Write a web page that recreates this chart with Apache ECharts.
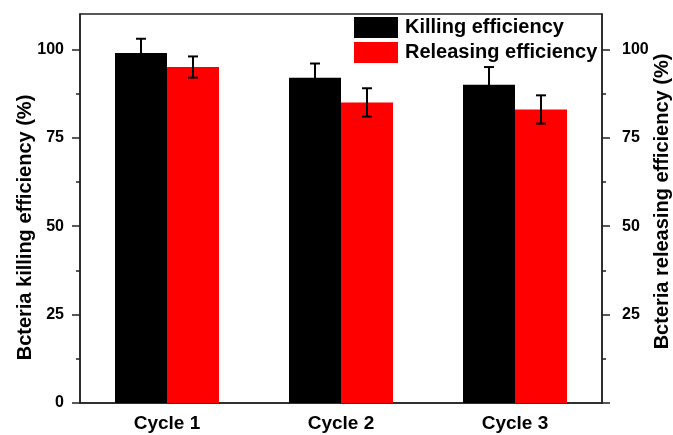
<!DOCTYPE html>
<html>
<head>
<meta charset="utf-8">
<script src="https://cdn.jsdelivr.net/npm/echarts@6/dist/echarts.min.js"></script>
<style>
html,body{margin:0;padding:0;background:#fff;}
#chart{width:673px;height:435px;}
</style>
</head>
<body>
<div id="chart"></div>
<script>
const categories = ['Cycle 1', 'Cycle 2', 'Cycle 3'];
const killing = [99, 92, 90];
const killingErr = [4, 4, 5];
const releasing = [95, 85, 83];
const releasingErr = [3, 4, 4];
const yTicks = [0, 25, 50, 75, 100];

const FONT = '"Liberation Sans", Arial, sans-serif';
const BAR_W = 52;

function errorSeries(name, values, errs, side) {
  return {
    type: 'custom',
    name: name + ' error',
    xAxisIndex: 0,
    yAxisIndex: 0,
    silent: true,
    z: 5,
    data: values.map((v, i) => [i, v, errs[i]]),
    renderItem: function (params, api) {
      const x = api.value(0), v = api.value(1), e = api.value(2);
      const hi = api.coord([x, v + e]);
      const lo = api.coord([x, v - e]);
      const cx = hi[0] + side * BAR_W / 2;
      const cap = 5;
      const st = { stroke: '#000', lineWidth: 2 };
      return {
        type: 'group',
        children: [
          { type: 'line', shape: { x1: cx, y1: hi[1], x2: cx, y2: lo[1] }, style: st },
          { type: 'line', shape: { x1: cx - cap, y1: hi[1], x2: cx + cap, y2: hi[1] }, style: st },
          { type: 'line', shape: { x1: cx - cap, y1: lo[1], x2: cx + cap, y2: lo[1] }, style: st }
        ]
      };
    }
  };
}

const axisLineStyle = { color: '#222', width: 1.5 };

const chart = echarts.init(document.getElementById('chart'), null, { renderer: 'canvas' });
chart.setOption({
  animation: false,
  backgroundColor: '#fff',
  textStyle: { fontFamily: FONT },
  grid: { left: 80, right: 71, top: 14, bottom: 32, containLabel: false, outerBoundsMode: 'none', show: true, borderColor: '#222', borderWidth: 1.5, backgroundColor: 'transparent' },
  legend: {
    orient: 'vertical',
    left: 354,
    top: 17,
    itemWidth: 44,
    itemHeight: 21,
    itemGap: 4,
    icon: 'rect',
    padding: 0,
    textStyle: { fontSize: 20, fontWeight: 'bold', color: '#000', fontFamily: FONT, padding: [0, 0, 0, 2] },
    data: ['Killing efficiency', 'Releasing efficiency']
  },
  xAxis: {
    type: 'category',
    data: categories,
    axisLine: { lineStyle: axisLineStyle },
    axisTick: { show: false },
    axisLabel: { fontSize: 19, fontWeight: 'bold', color: '#000', margin: 11, fontFamily: FONT },
    splitLine: { show: false }
  },
  yAxis: [
    {
      type: 'value',
      min: 0, max: 110, interval: 25,
      position: 'left',
      name: 'Bcteria killing efficiency (%)',
      nameLocation: 'middle',
      nameRotate: 90,
      nameGap: 45,
      nameMoveOverlap: false,
      nameTextStyle: { fontSize: 20, fontWeight: 'bold', color: '#000', fontFamily: FONT, padding: [0, 38, 0, 0] },
      axisLine: { show: true, lineStyle: axisLineStyle },
      axisTick: { show: true, inside: false, length: 8, lineStyle: { color: '#222', width: 1.5 }, customValues: yTicks },
      minorTick: { show: true, splitNumber: 2, length: 4, lineStyle: { color: '#222', width: 1.5 } },
      axisLabel: { fontSize: 16, fontWeight: 'bold', color: '#000', margin: 16, fontFamily: FONT, customValues: yTicks },
      splitLine: { show: false }
    },
    {
      type: 'value',
      min: 0, max: 110, interval: 25,
      position: 'right',
      name: 'Bcteria releasing efficiency (%)',
      nameLocation: 'middle',
      nameRotate: 90,
      nameGap: 50,
      nameMoveOverlap: false,
      nameTextStyle: { fontSize: 20, fontWeight: 'bold', color: '#000', fontFamily: FONT, padding: [0, 0, 0, 14] },
      axisLine: { show: true, lineStyle: axisLineStyle },
      axisTick: { show: true, inside: false, length: 8, lineStyle: { color: '#222', width: 1.5 }, customValues: yTicks },
      minorTick: { show: true, splitNumber: 2, length: 4, lineStyle: { color: '#222', width: 1.5 } },
      axisLabel: { fontSize: 16, fontWeight: 'bold', color: '#000', margin: 20, fontFamily: FONT, customValues: yTicks.filter(v => v > 0) },
      splitLine: { show: false }
    }
  ],
  series: [
    { type: 'bar', name: 'Killing efficiency', data: killing, yAxisIndex: 0, barWidth: BAR_W, barGap: '0%', itemStyle: { color: '#000' } },
    { type: 'bar', name: 'Releasing efficiency', data: releasing, yAxisIndex: 0, barWidth: BAR_W, barGap: '0%', itemStyle: { color: '#ff0000' } },
    errorSeries('Killing efficiency', killing, killingErr, -1),
    errorSeries('Releasing efficiency', releasing, releasingErr, 1)
  ]
});
</script>
</body>
</html>
